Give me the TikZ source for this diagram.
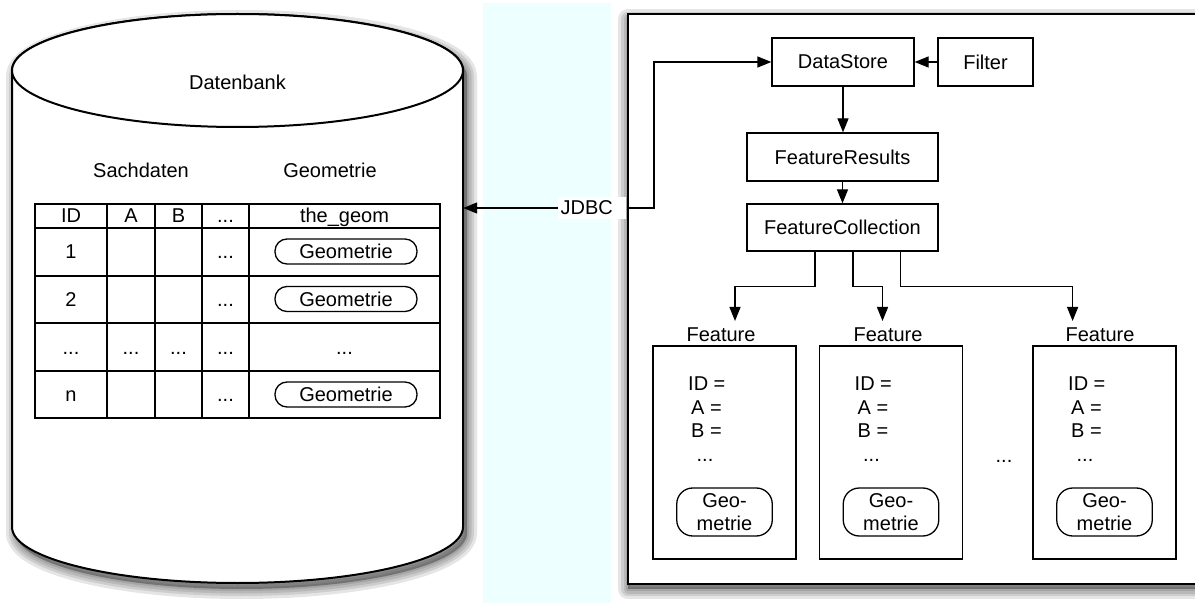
\documentclass[tikz,border=0pt]{standalone}
\usepackage{fontspec}
\setmainfont{Liberation Sans}
\usetikzlibrary{arrows.meta,calc}
\definecolor{bandcyan}{RGB}{238,255,255}
\newcommand\cylshape[1]{\path[#1] (12,70.5) -- (12,527) arc[start angle=180,end angle=360,x radius=225.5pt,y radius=56pt] -- (463,70.5) arc[start angle=0,end angle=180,x radius=225.5pt,y radius=56.5pt] -- cycle;}
\newcommand\panelshape[1]{\path[#1] (1215,14) -- (628,14) -- (628,584) -- (1215,584) -- cycle;}
\begin{document}
\begin{tikzpicture}[x=1pt,y=-1pt,
  font=\fontsize{20}{23}\selectfont,
  box/.style={draw, line width=1.3pt, fill=white, inner sep=0pt},
  pill/.style={draw, line width=1.3pt, fill=white, rounded corners=12pt, inner sep=0pt},
  arr/.style={line width=1.3pt, -{Triangle[length=14pt,width=11pt]}},
  cell/.style={anchor=base, inner sep=0pt},
  shadowstroke/.style={draw=black, opacity=0.1, line width=#1, line join=round},
]
\useasboundingbox (0,0) rectangle (1195,604);
\fill[white] (0,0) rectangle (1195,604);
\fill[bandcyan] (483,3) rectangle (611,603);

% ---------- shadows ----------
\begin{scope}[shift={(4,6)}]
  \foreach \w in {20,14,9,4} {\cylshape{shadowstroke=\w pt}}
  \cylshape{fill=black, opacity=0.3}
\end{scope}
\begin{scope}[shift={(0,5)}]
  \foreach \w in {20,14,9,4} {\panelshape{shadowstroke=\w pt}}
  \panelshape{fill=black, opacity=0.3}
\end{scope}

% ---------- database cylinder ----------
\cylshape{fill=white, draw, line width=2pt}
\draw[line width=2pt, fill=white] (237.5,70.5) ellipse[x radius=225.5pt, y radius=56.5pt];
\node[inner sep=0pt, minimum width=451pt, minimum height=513pt] (db) at (237.5,326.5) {};
\node (dbname) at (237.5,82) {Datenbank};
\node (sach) at (141,170) {Sachdaten};
\node (geohead) at (330,170) {Geometrie};

% table
\node[draw, line width=1.3pt, minimum width=405pt, minimum height=214pt, inner sep=0pt] (tbl) at (237.5,311) {};
\foreach \yy in {228,276,323,371} \draw[line width=1.3pt] (35,\yy) -- (440,\yy);
\foreach \xx in {107,155,202,249} \draw[line width=1.3pt] (\xx,204) -- (\xx,418);
\node[cell] (hid) at (71,223) {ID};
\node[cell] (ha) at (131,223) {A};
\node[cell] (hb) at (178.5,223) {B};
\node[cell] (hd) at (225.5,223) {...};
\node[cell] (hg) at (344.5,223) {the\_geom};
\node[cell] (r1) at (71,259) {1};
\node[cell] (r1d) at (225.5,259) {...};
\node[cell] (r2) at (71,306.5) {2};
\node[cell] (r2d) at (225.5,306.5) {...};
\node[cell] (r3) at (71,354) {...};
\node[cell] (r3a) at (131,354) {...};
\node[cell] (r3b) at (178.5,354) {...};
\node[cell] (r3d) at (225.5,354) {...};
\node[cell] (r3g) at (344.5,354) {...};
\node[cell] (rn) at (71,401.5) {n};
\node[cell] (rnd) at (225.5,401.5) {...};
\node[pill, minimum width=142pt, minimum height=25pt] (g1) at (346,251.5) {Geometrie};
\node[pill, minimum width=142pt, minimum height=25pt] (g2) at (346,299) {Geometrie};
\node[pill, minimum width=142pt, minimum height=25pt] (gn) at (346,394.5) {Geometrie};

% ---------- right panel ----------
\panelshape{fill=white}
\draw[line width=2pt] (1215,14) -- (628,14) -- (628,584) -- (1215,584);

\node[box, minimum width=142pt, minimum height=48pt] (ds) at (843,62) {DataStore};
\node[box, minimum width=95pt, minimum height=48pt] (filter) at (985.5,62) {Filter};
\node[box, minimum width=191pt, minimum height=48pt] (fr) at (842.5,157) {FeatureResults};
\node[box, minimum width=191pt, minimum height=47pt] (fc) at (842.5,227.5) {FeatureCollection};

\node (fl1) at (721,335) {Feature};
\node (fl2) at (888,335) {Feature};
\node (fl3) at (1100,335) {Feature};
\coordinate (t1) at (735,321);
\coordinate (t2) at (882.5,321);
\coordinate (t3) at (1072.6,321);

\foreach \n/\l in {1/653,2/819.5,3/1033} {
  \node[box, minimum width=143pt, minimum height=213pt] (f\n) at (\l+71.5,452.5) {};
  \node[cell, anchor=base west] (id\n) at (\l+35,390) {ID =};
  \node[cell, anchor=base west] (a\n) at (\l+38,414) {A =};
  \node[cell, anchor=base west] (b\n) at (\l+38,437) {B =};
  \node[cell] (d\n) at (\l+52,461) {...};
  \node[pill, rounded corners=16pt, minimum width=95.5pt, minimum height=48pt, align=center] (gg\n) at (\l+71.5,512) {Geo-\\metrie};
}
\node[cell] (mid) at (1004,462) {...};

% ---------- JDBC ----------
\node[fill=white, inner xsep=2.5pt, inner ysep=4pt, anchor=west] (jdbc) at (558,208) {JDBC\hspace*{11pt}};
\coordinate (bend) at (654,62);

% ---------- connectors ----------
\draw[arr] (jdbc.west) -- (db.east |- jdbc.west);
\draw[arr] (jdbc.east) -| (bend) -- (ds.west);
\draw[arr] (filter.west) -- (ds.east);
\draw[arr] (ds.south) -- (ds.south |- fr.north);
\draw[arr] (fr.south) -- (fc.north);
\draw[arr] ([xshift=-27.5pt]fc.south) -- ++(0,35) -| (t1);
\draw[arr] ([xshift=10.5pt]fc.south) -- ++(0,35) -| (t2);
\draw[arr] ([xshift=58pt]fc.south) -- ++(0,35) -| (t3);
\end{tikzpicture}
\end{document}
